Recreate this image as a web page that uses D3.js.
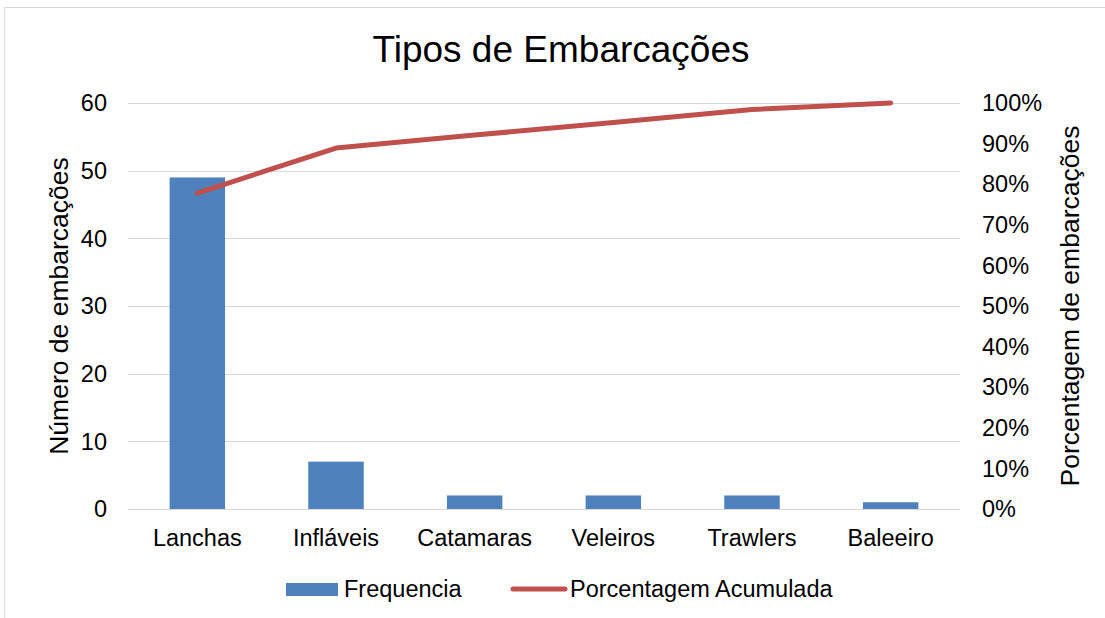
<!DOCTYPE html>
<meta charset="utf-8" />
<style>
  body {
    margin: 0;
    background: #fff;
  }
  svg text {
    font-family: "Liberation Sans", Arial, sans-serif;
    fill: #000;
  }
  .grid line {
    stroke: #d9d9d9;
    stroke-width: 1;
  }
  .bar {
    fill: #4f81bd;
  }
  .cum {
    fill: none;
    stroke: #c0504d;
    stroke-width: 5;
    stroke-linecap: round;
    stroke-linejoin: round;
  }
</style>
<body>
  <div id="chart"></div>
  <script src="https://cdn.jsdelivr.net/npm/d3@7"></script>
  <script>
    const categories = ["Lanchas", "Infláveis", "Catamaras", "Veleiros", "Trawlers", "Baleeiro"];
    const frequencia = [49, 7, 2, 2, 2, 1];
    const acumulada = [77.8, 88.9, 92.1, 95.2, 98.4, 100];
    const leftTicks = [0, 10, 20, 30, 40, 50, 60];
    const rightTicks = [0, 10, 20, 30, 40, 50, 60, 70, 80, 90, 100];

    const width = 1105;
    const height = 618;
    const plot = { left: 128, right: 960, top: 103, bottom: 509 };
    const fs = "23.5px";

    const svg = d3
      .select("#chart")
      .append("svg")
      .attr("width", width)
      .attr("height", height);

    // outer chart frame (partially cut)
    svg
      .append("path")
      .attr("d", `M4.5,${height} V7.5 H${width}`)
      .attr("fill", "none")
      .attr("stroke", "#d9d9d9");

    const x = d3
      .scaleBand()
      .domain(categories)
      .range([plot.left, plot.right])
      .padding(0);

    const y = d3.scaleLinear().domain([0, 60]).range([plot.bottom, plot.top]);
    const yPct = d3.scaleLinear().domain([0, 100]).range([plot.bottom, plot.top]);

    // gridlines
    svg
      .append("g")
      .attr("class", "grid")
      .selectAll("line")
      .data(leftTicks)
      .join("line")
      .attr("x1", plot.left)
      .attr("x2", plot.right)
      .attr("y1", (d) => Math.round(y(d)) + 0.5)
      .attr("y2", (d) => Math.round(y(d)) + 0.5);

    // left axis labels
    svg
      .append("g")
      .selectAll("text")
      .data(leftTicks)
      .join("text")
      .attr("x", 107)
      .attr("y", (d) => y(d))
      .attr("dy", "0.35em")
      .attr("text-anchor", "end")
      .style("font-size", fs)
      .text((d) => d);

    // right axis labels
    svg
      .append("g")
      .selectAll("text")
      .data(rightTicks)
      .join("text")
      .attr("x", 982)
      .attr("y", (d) => yPct(d))
      .attr("dy", "0.35em")
      .attr("text-anchor", "start")
      .style("font-size", fs)
      .text((d) => d + "%");

    // bars
    const barW = x.bandwidth() * 0.4;
    svg
      .append("g")
      .selectAll("rect")
      .data(frequencia)
      .join("rect")
      .attr("class", "bar")
      .attr("x", (d, i) => x(categories[i]) + (x.bandwidth() - barW) / 2)
      .attr("width", barW)
      .attr("y", (d) => y(d))
      .attr("height", (d) => y(0) - y(d));

    // cumulative line
    const line = d3
      .line()
      .x((d, i) => x(categories[i]) + x.bandwidth() / 2)
      .y((d) => yPct(d));

    svg.append("path").datum(acumulada).attr("class", "cum").attr("d", line);

    // category labels
    svg
      .append("g")
      .selectAll("text")
      .data(categories)
      .join("text")
      .attr("x", (d) => x(d) + x.bandwidth() / 2)
      .attr("y", 546)
      .attr("text-anchor", "middle")
      .style("font-size", fs)
      .text((d) => d);

    // title
    svg
      .append("text")
      .attr("x", 561)
      .attr("y", 62)
      .attr("text-anchor", "middle")
      .style("font-size", "37px")
      .text("Tipos de Embarcações");

    // axis titles
    svg
      .append("text")
      .attr("transform", `translate(68,306) rotate(-90)`)
      .attr("text-anchor", "middle")
      .style("font-size", "26.5px")
      .text("Número de embarcações");

    svg
      .append("text")
      .attr("transform", `translate(1079,306) rotate(-90)`)
      .attr("text-anchor", "middle")
      .style("font-size", "26.5px")
      .text("Porcentagem de embarcações");

    // legend
    const legend = svg.append("g");
    legend
      .append("rect")
      .attr("x", 286)
      .attr("y", 583)
      .attr("width", 52)
      .attr("height", 13)
      .attr("fill", "#4f81bd");
    legend
      .append("text")
      .attr("x", 344)
      .attr("y", 597)
      .style("font-size", fs)
      .text("Frequencia");
    legend
      .append("line")
      .attr("x1", 513)
      .attr("x2", 565)
      .attr("y1", 589)
      .attr("y2", 589)
      .attr("stroke", "#c0504d")
      .attr("stroke-width", 5)
      .attr("stroke-linecap", "round");
    legend
      .append("text")
      .attr("x", 570)
      .attr("y", 597)
      .style("font-size", fs)
      .text("Porcentagem Acumulada");
  </script>
</body>
